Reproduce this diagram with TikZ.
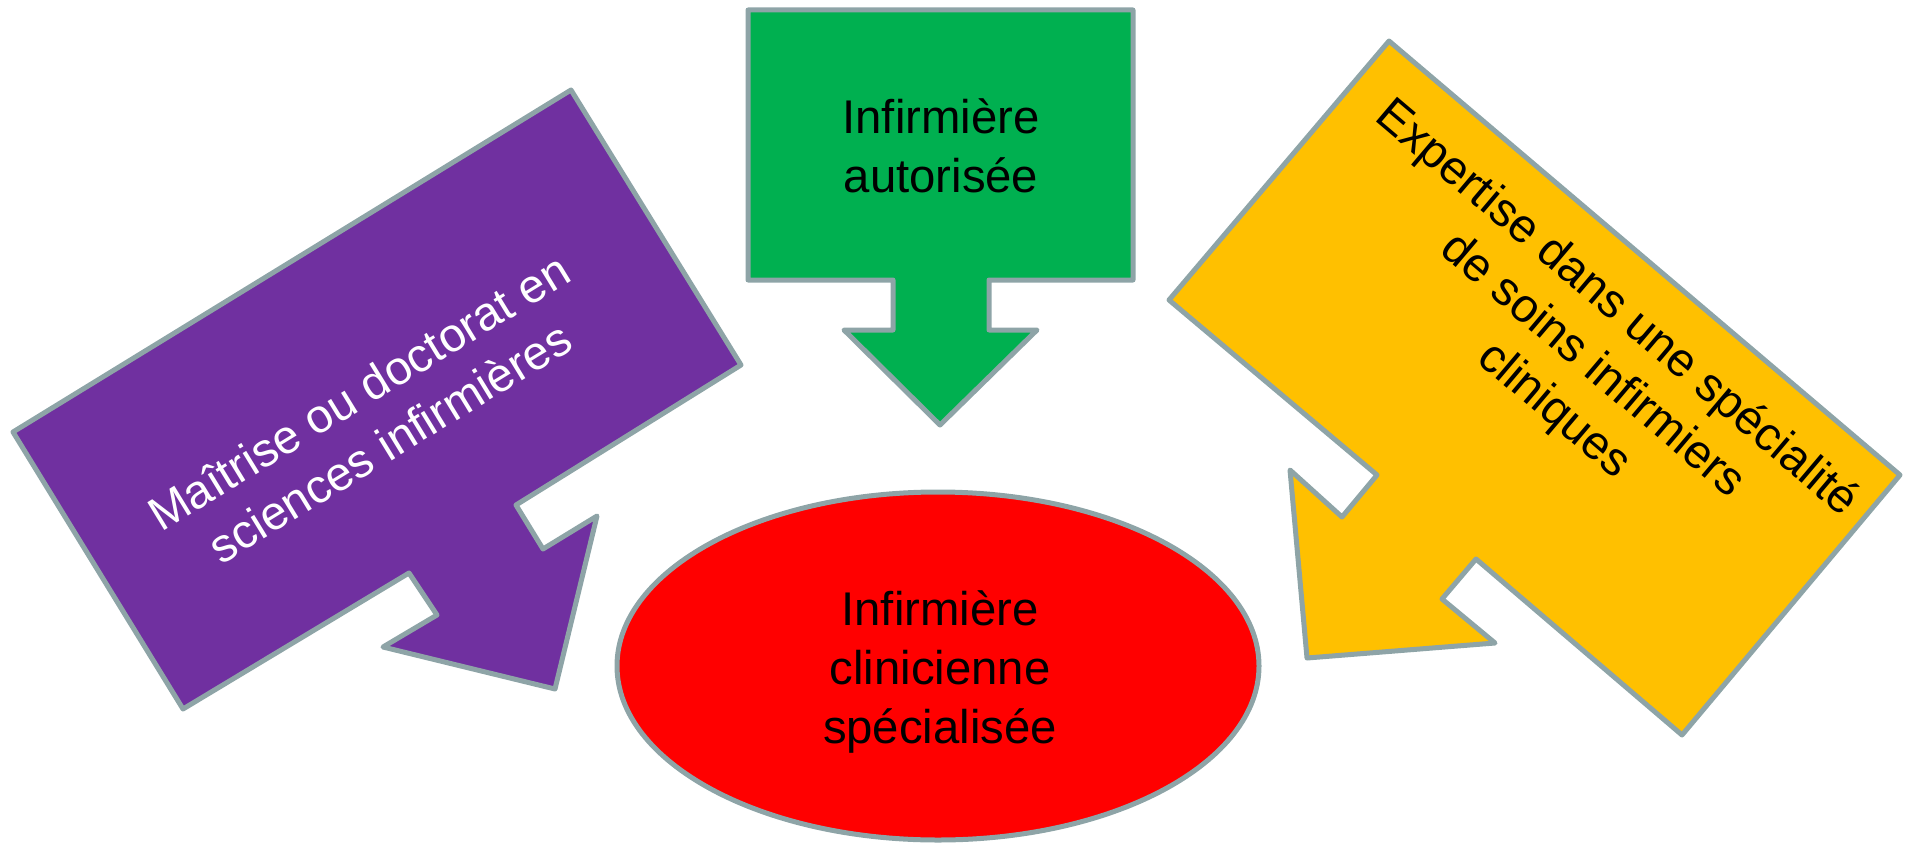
\documentclass[tikz,border=0pt]{standalone}
\usepackage{fontspec}
\setmainfont{Liberation Sans}
\usetikzlibrary{shapes.geometric}
\definecolor{bord}{RGB}{142,164,167}
\definecolor{cgreen}{RGB}{0,176,80}
\definecolor{cpurple}{RGB}{112,48,160}
\definecolor{cyellow}{RGB}{255,192,0}
\definecolor{cred}{RGB}{255,0,0}
\begin{document}
\begin{tikzpicture}[x=1pt,y=-1pt,
  shapeline/.style={draw=bord,line width=5pt,line join=round},
  lbl/.style={align=center,inner sep=0pt,font=\fontsize{47.3}{59}\selectfont}]
\useasboundingbox (0,0) rectangle (1910,843);
% purple callout
\draw[shapeline,fill=cpurple] (13,432) -- (571,90) -- (741,365) -- (516,505) -- (543,549) -- (597,516) -- (555,689) -- (383,647) -- (437,615) -- (409,573) -- (183,709) -- cycle;
% green callout
\draw[shapeline,fill=cgreen] (748,10) -- (1133,10) -- (1133,280) -- (989,280) -- (989,330) -- (1037,330) -- (940,425) -- (844,330) -- (893,330) -- (893,280) -- (748,280) -- cycle;
% yellow callout
\draw[shapeline,fill=cyellow] (1389,41) -- (1900,475) -- (1682,735) -- (1476,559) -- (1442,599) -- (1495,643) -- (1307,658) -- (1290,470) -- (1342,517) -- (1377,475) -- (1169,300) -- cycle;
% red ellipse
\node[ellipse,shapeline,fill=cred,minimum width=642pt,minimum height=348pt,inner sep=0pt] (cns) at (938,666) {};
% labels
\node[lbl] (tgreen) at (941,146) {Infirmière\\autorisée};
\node[lbl] (tred) at (940,672) {Infirmière\\clinicienne\\spécialisée};
\node[lbl,text=white,rotate=31.5] (tpurple) at (374,417) {Maîtrise ou doctorat en\\sciences infirmières};
\node[lbl,rotate=-40.3] (tyellow) at (1592,366) {Expertise dans une spécialité\hspace*{36pt}\\de soins infirmiers\\cliniques};
\end{tikzpicture}
\end{document}
